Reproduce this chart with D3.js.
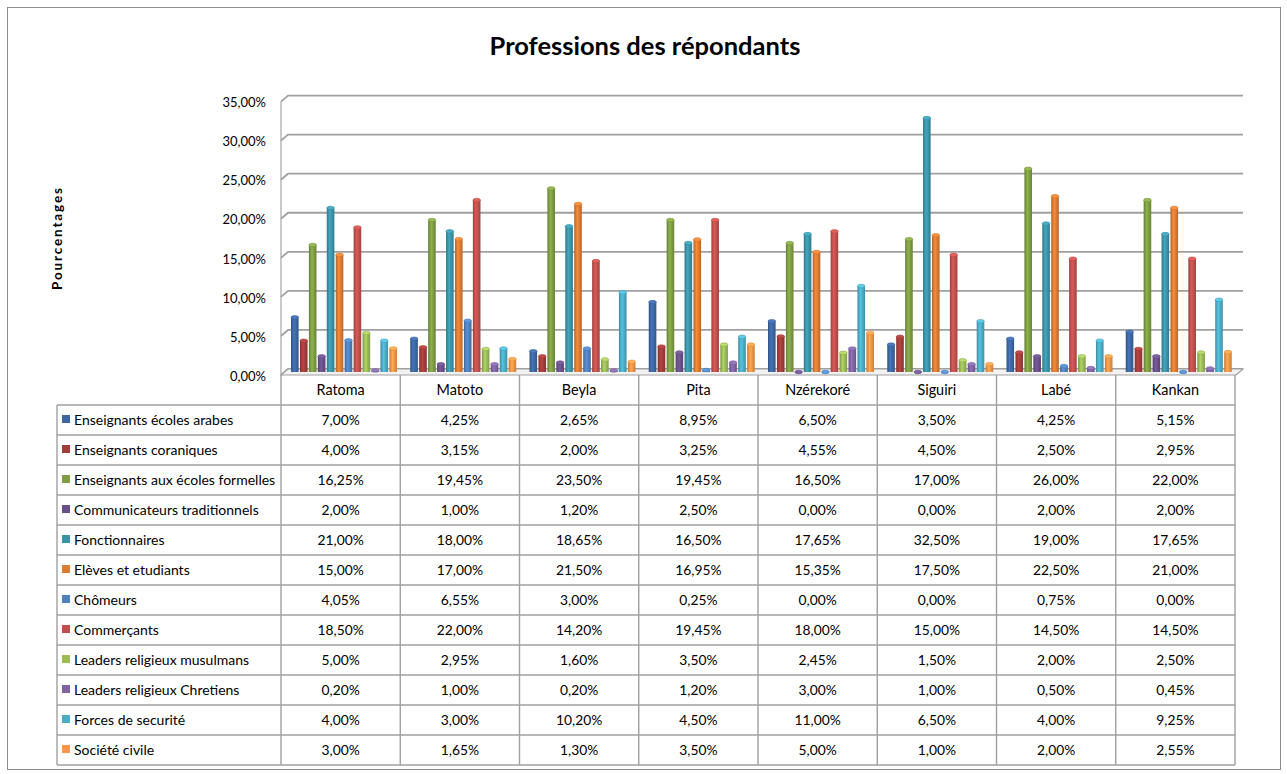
<!DOCTYPE html>
<html>
<head>
<meta charset="utf-8">
<script src="https://cdn.jsdelivr.net/npm/d3@7"></script>
<style>
  body { margin: 0; background: #fff; }
  svg { display: block; }
  text { font-family: Lato, "Open Sans", sans-serif; fill: #000; }
</style>
</head>
<body>
<script>
// categories (régions) and series (professions)
const categories = ['Ratoma', 'Matoto', 'Beyla', 'Pita', 'Nzérekoré', 'Siguiri', 'Labé', 'Kankan'];
const seriesNames = [
  'Enseignants écoles arabes', 'Enseignants coraniques', 'Enseignants aux écoles formelles',
  'Communicateurs traditionnels', 'Fonctionnaires', 'Elèves et etudiants', 'Chômeurs',
  'Commerçants', 'Leaders religieux musulmans', 'Leaders religieux Chretiens',
  'Forces de securité', 'Société civile'
];
const arabes = [7.00, 4.25, 2.65, 8.95, 6.50, 3.50, 4.25, 5.15];
const coraniques = [4.00, 3.15, 2.00, 3.25, 4.55, 4.50, 2.50, 2.95];
const formelles = [16.25, 19.45, 23.50, 19.45, 16.50, 17.00, 26.00, 22.00];
const communicateurs = [2.00, 1.00, 1.20, 2.50, 0.00, 0.00, 2.00, 2.00];
const fonctionnaires = [21.00, 18.00, 18.65, 16.50, 17.65, 32.50, 19.00, 17.65];
const eleves = [15.00, 17.00, 21.50, 16.95, 15.35, 17.50, 22.50, 21.00];
const chomeurs = [4.05, 6.55, 3.00, 0.25, 0.00, 0.00, 0.75, 0.00];
const commercants = [18.50, 22.00, 14.20, 19.45, 18.00, 15.00, 14.50, 14.50];
const musulmans = [5.00, 2.95, 1.60, 3.50, 2.45, 1.50, 2.00, 2.50];
const chretiens = [0.20, 1.00, 0.20, 1.20, 3.00, 1.00, 0.50, 0.45];
const securite = [4.00, 3.00, 10.20, 4.50, 11.00, 6.50, 4.00, 9.25];
const civile = [3.00, 1.65, 1.30, 3.50, 5.00, 1.00, 2.00, 2.55];
const yTicks = [0, 5, 10, 15, 20, 25, 30, 35];

const seriesValues = [arabes, coraniques, formelles, communicateurs, fonctionnaires, eleves,
  chomeurs, commercants, musulmans, chretiens, securite, civile];
const colors = ['#3d67a3', '#a33d3a', '#7e9d43', '#6a5089', '#3b93a8', '#db7c33',
  '#4f81bd', '#c0504d', '#9bbb59', '#8064a2', '#4bacc6', '#f79646'];

const w = 1287, h = 774;
const fr = d3.formatLocale({decimal: ',', thousands: ' ', grouping: [3], currency: ['', '']});
const pct = (v) => fr.format('.2f')(v) + '%';

const svg = d3.select('body').append('svg').attr('width', w).attr('height', h);

// outer frame
svg.append('rect')
  .attr('x', 7.5).attr('y', 7.5).attr('width', 1273).attr('height', 762)
  .attr('fill', '#fff').attr('stroke', '#8c8c8c');

svg.append('text')
  .attr('x', 645).attr('y', 55)
  .attr('text-anchor', 'middle')
  .style('font-size', '25.5px').style('font-weight', 'bold')
  .text('Professions des répondants');

// scales
const xCat = d3.scaleBand().domain(categories).range([281, 1235]);
const xSer = d3.scaleBand().domain(seriesNames).range([10, 116]).paddingInner(0.15);
const y = d3.scaleLinear().domain([0, 35]).range([372, 98.6]);
const depth = 3, slant = 7;

// gridlines on back wall with the little slanted ends on the left wall
const grid = svg.append('g');
yTicks.forEach((t) => {
  grid.append('path')
    .attr('d', `M281,${y(t) + depth} L${281 + slant},${y(t) - depth} L1243,${y(t) - depth}`)
    .attr('fill', 'none').attr('stroke', '#a0a0a0').attr('stroke-width', 1.8);
});
grid.append('line')
  .attr('x1', 281).attr('x2', 281).attr('y1', y(35) + depth).attr('y2', y(0) + depth)
  .attr('stroke', '#a6a6a6').attr('stroke-width', 1.2);
// floor
svg.append('path')
  .attr('d', `M281,${y(0) + depth} L${281 + slant},${y(0) - depth} L1243,${y(0) - depth} L1236,${y(0) + depth} Z`)
  .attr('fill', '#f2f2f2').attr('stroke', '#a0a0a0').attr('stroke-width', 1.2);

// y axis labels
const yAxis = d3.axisLeft(y).tickValues(yTicks).tickFormat(pct).tickSize(0).tickPadding(0);
svg.append('g')
  .attr('transform', 'translate(266,4)')
  .call(yAxis)
  .call((g) => g.select('.domain').remove())
  .selectAll('text')
  .style('font-size', '13px')
  .style('font-family', 'Lato, "Open Sans", sans-serif');

svg.append('text')
  .attr('transform', 'translate(62,239) rotate(-90)')
  .attr('text-anchor', 'middle')
  .attr('textLength', 102).attr('lengthAdjust', 'spacing')
  .style('font-size', '13.5px').style('font-weight', 'bold')
  .text('Pourcentages');

// gradients for the cylinder look
const defs = svg.append('defs');
colors.forEach((c, i) => {
  const g = defs.append('linearGradient').attr('id', 'grad' + i).attr('x1', '0').attr('x2', '1');
  g.append('stop').attr('offset', '0%').attr('stop-color', d3.color(c).darker(0.6));
  g.append('stop').attr('offset', '40%').attr('stop-color', d3.color(c).brighter(0.35));
  g.append('stop').attr('offset', '100%').attr('stop-color', d3.color(c).darker(0.5));
});

// bars
const bw = xSer.bandwidth();
seriesValues.forEach((vals, si) => {
  const gS = svg.append('g');
  const data = vals.map((v, ci) => ({cat: categories[ci], v: v}));
  gS.selectAll('rect')
    .data(data)
    .enter()
    .append('rect')
    .attr('x', (d) => xCat(d.cat) + xSer(seriesNames[si]))
    .attr('y', (d) => y(d.v))
    .attr('width', bw)
    .attr('height', (d) => y(0) - y(d.v))
    .attr('fill', `url(#grad${si})`);
  gS.selectAll('ellipse')
    .data(data)
    .enter()
    .append('ellipse')
    .attr('cx', (d) => xCat(d.cat) + xSer(seriesNames[si]) + bw / 2)
    .attr('cy', (d) => y(d.v))
    .attr('rx', bw / 2)
    .attr('ry', 1.8)
    .attr('fill', d3.color(colors[si]).brighter(0.5))
    .attr('stroke', d3.color(colors[si]).darker(0.3))
    .attr('stroke-width', 0.6);
});

// data table
const rowTop = 405, rowH = 30, tableLeft = 57;
const rowY = (i) => rowTop + i * rowH;
const tbl = svg.append('g').attr('stroke', '#a0a0a0').attr('stroke-width', 1.4);

// vertical lines
xCat.domain().forEach((c) => {
  tbl.append('line').attr('x1', xCat(c)).attr('x2', xCat(c)).attr('y1', y(0) + depth).attr('y2', rowY(12));
});
tbl.append('line').attr('x1', 1235).attr('x2', 1235).attr('y1', y(0) + depth).attr('y2', rowY(12));
tbl.append('line').attr('x1', tableLeft).attr('x2', tableLeft).attr('y1', rowY(0)).attr('y2', rowY(12));
// horizontal lines
d3.range(13).forEach((i) => {
  tbl.append('line').attr('x1', tableLeft).attr('x2', 1235).attr('y1', rowY(i)).attr('y2', rowY(i));
});

// category headers
svg.append('g').selectAll('text')
  .data(categories)
  .enter()
  .append('text')
  .attr('x', (d) => xCat(d) + xCat.bandwidth() / 2)
  .attr('y', rowTop - 10)
  .attr('text-anchor', 'middle')
  .style('font-size', '14.4px')
  .text((d) => d);

// rows: legend key, label, values
seriesNames.forEach((name, si) => {
  const cy = rowY(si) + rowH / 2;
  svg.append('rect')
    .attr('x', 62).attr('y', cy - 5).attr('width', 8).attr('height', 8)
    .attr('fill', colors[si]);
  svg.append('text')
    .attr('x', 74).attr('y', cy + 5)
    .style('font-size', '14px')
    .text(name);
  svg.append('g').selectAll('text')
    .data(seriesValues[si])
    .enter()
    .append('text')
    .attr('x', (d, ci) => xCat(categories[ci]) + xCat.bandwidth() / 2)
    .attr('y', cy + 5)
    .attr('text-anchor', 'middle')
    .style('font-size', '13.8px')
    .text((d) => pct(d));
});
</script>
</body>
</html>
